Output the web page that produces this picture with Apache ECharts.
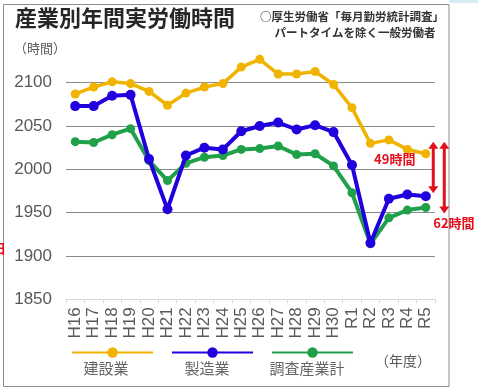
<!DOCTYPE html>
<html><head><meta charset="utf-8">
<script src="https://cdn.jsdelivr.net/npm/echarts@6/dist/echarts.min.js"></script>
<style>html,body{margin:0;padding:0;background:#fff}#c{width:478px;height:392px}</style>
</head><body><div id="c"></div>
<script>
const categories = ['H16','H17','H18','H19','H20','H21','H22','H23','H24','H25','H26','H27','H28','H29','H30','R1','R2','R3','R4','R5'];
const construction = [2087, 2095, 2101, 2099, 2090, 2074, 2088, 2095, 2099, 2118, 2127, 2110, 2110, 2113, 2098, 2071, 2030, 2034, 2023, 2018];
const manufacturing = [2073, 2073, 2085, 2086, 2012, 1954, 2016, 2025, 2023, 2044, 2050, 2054, 2046, 2051, 2043, 2005, 1915, 1966, 1971, 1969];
const industryTotal = [2032, 2031, 2040, 2047, 2010, 1987, 2007, 2014, 2016, 2023, 2024, 2027, 2017, 2018, 2004, 1973, 1914, 1944, 1953, 1956];
const seriesNames = ['建設業', '製造業', '調査産業計'];
const yMin = 1850, yMax = 2150, yStep = 50;

const colors = ['#f0b400', '#2000dc', '#21a04a'];
const JP = '"Noto Sans CJK JP", "Liberation Sans", sans-serif';
const NUM = '"Liberation Sans", Arial, sans-serif';

const chart = echarts.init(document.getElementById('c'), null, {renderer: 'canvas'});

function mkSeries(name, data, color, lw, sym, z) {
  return {
    name, type: 'line', data, z,
    symbol: 'circle', symbolSize: sym,
    lineStyle: {color, width: lw},
    itemStyle: {color},
    emphasis: {disabled: true},
    animation: false
  };
}

function legendItem(name, left) {
  return {
    data: [name], left, top: 341, itemWidth: 81, itemHeight: 13,
    formatter: () => '', selectedMode: false,
    textStyle: {fontSize: 1}
  };
}

chart.setOption({
  animation: false,
  grid: {left: 66, right: 43, top: 39.4, bottom: 92.7},
  legend: [legendItem(seriesNames[0], 66), legendItem(seriesNames[1], 166), legendItem(seriesNames[2], 266)],
  xAxis: {
    type: 'category', data: categories, boundaryGap: true,
    axisLine: {lineStyle: {color: '#d9d9d9', width: 1}},
    axisTick: {show: true, length: 4, lineStyle: {color: '#d9d9d9'}},
    axisLabel: {rotate: 90, fontSize: 17, color: '#595959', fontFamily: NUM, margin: 8, interval: 0}
  },
  yAxis: {
    type: 'value', min: yMin, max: yMax, interval: yStep,
    axisLine: {show: false}, axisTick: {show: false},
    axisLabel: {fontSize: 17, color: '#595959', fontFamily: NUM, margin: 14,
      formatter: v => v === yMax ? '' : String(v)},
    splitLine: {lineStyle: {color: ['rgba(0,0,0,0)', '#8a8a8a', '#8a8a8a', '#8a8a8a', '#8a8a8a', '#8a8a8a', 'rgba(0,0,0,0)'], width: 1}}
  },
  series: [
    mkSeries(seriesNames[0], construction, colors[0], 3.5, 9, 2),
    mkSeries(seriesNames[1], manufacturing, colors[1], 4, 10, 4),
    mkSeries(seriesNames[2], industryTotal, colors[2], 4, 9, 3)
  ]
});

const last = categories.length - 1;
const pC = chart.convertToPixel({gridIndex: 0}, [categories[last], construction[last]]);
const pM = chart.convertToPixel({gridIndex: 0}, [categories[last], manufacturing[last]]);
const pT = chart.convertToPixel({gridIndex: 0}, [categories[last], industryTotal[last]]);
const gap1 = construction[last] - manufacturing[last];
const gap2 = construction[last] - industryTotal[last];
const red = '#e3101c';

function arrow(x, y1, y2) {
  const h = 7, w = 5;
  return [
    {type: 'line', shape: {x1: x, y1: y1 + h - 1, x2: x, y2: y2 - h + 1}, style: {stroke: red, lineWidth: 3}, z: 100},
    {type: 'polygon', shape: {points: [[x, y1], [x - w, y1 + h], [x + w, y1 + h]]}, style: {fill: red}, z: 100},
    {type: 'polygon', shape: {points: [[x, y2], [x - w, y2 - h], [x + w, y2 - h]]}, style: {fill: red}, z: 100}
  ];
}

const ax1 = pC[0] + 7.5, ax2 = pC[0] + 18.5;
const topY = pC[1] - 12;

chart.setOption({
  graphic: [
    {type: 'rect', shape: {x: 449, y: 0, width: 29, height: 3}, style: {fill: '#d3edf6'}, z: 0, silent: true},
    {type: 'rect', shape: {x: 3.5, y: 4.5, width: 445.5, height: 382}, style: {fill: null, stroke: '#8c8c8c', lineWidth: 1}, z: 0, silent: true},
    {type: 'text', left: 15, top: 7, style: {text: '産業別年間実労働時間', font: 'bold 22px ' + JP, fill: '#262626'}},
    {type: 'text', x: 352, y: 17, style: {text: '○厚生労働省「毎月勤労統計調査」', font: 'bold 11.5px ' + JP, fill: '#333', align: 'center', verticalAlign: 'middle'}},
    {type: 'text', x: 355, y: 33, style: {text: 'パートタイムを除く一般労働者', font: 'bold 11.5px ' + JP, fill: '#333', align: 'center', verticalAlign: 'middle'}},
    {type: 'text', x: 14, y: 48, style: {text: '（時間）', font: '13px ' + JP, fill: '#595959', verticalAlign: 'middle'}},
    {type: 'text', x: 106, y: 368, style: {text: seriesNames[0], font: '15px ' + JP, fill: '#666', align: 'center', verticalAlign: 'middle'}},
    {type: 'text', x: 207, y: 368, style: {text: seriesNames[1], font: '15px ' + JP, fill: '#666', align: 'center', verticalAlign: 'middle'}},
    {type: 'text', x: 307, y: 368, style: {text: seriesNames[2], font: '15px ' + JP, fill: '#666', align: 'center', verticalAlign: 'middle'}},
    {type: 'text', x: 403, y: 361, style: {text: '（年度）', font: '14px ' + JP, fill: '#595959', align: 'center', verticalAlign: 'middle'}},
    {type: 'text', x: -7, y: 248, style: {text: '日', font: 'bold 13px ' + JP, fill: red, verticalAlign: 'middle'}},
    ...arrow(ax1, topY, pM[1] - 3),
    ...arrow(ax2, topY, pT[1] + 6),
    {type: 'text', x: pC[0] - 31, y: pC[1] + 5, z: 101, style: {text: gap1 + '時間', font: 'bold 13px ' + JP, fill: red, align: 'center', verticalAlign: 'middle'}},
    {type: 'text', x: ax2 - 11, y: pT[1] + 16, z: 101, style: {text: gap2 + '時間', font: 'bold 13px ' + JP, fill: red, align: 'left', verticalAlign: 'middle'}}
  ]
});
</script></body></html>
